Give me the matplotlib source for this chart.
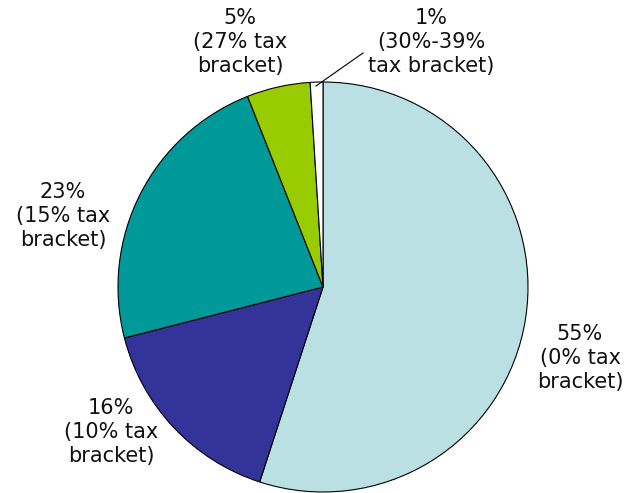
import matplotlib
matplotlib.use("Agg")
import matplotlib.pyplot as plt

# tax bracket shares (%), clockwise from the top
values = [55, 16, 23, 5, 1]
labels = ["55%\n(0% tax\nbracket)",
          "16%\n(10% tax\nbracket)",
          "23%\n(15% tax\nbracket)",
          "5%\n(27% tax\nbracket)",
          "1%\n(30%-39%\ntax bracket)"]
colors = ["#BAE0E3", "#333399", "#009999", "#99CC00", "#FFFFFF"]

W, H = 625, 493
fig = plt.figure(figsize=(W / 100, H / 100), dpi=100)
ax = fig.add_axes([0, 0, 1, 1])

cx, cy, r = 323, H - 287, 205
ax.pie(values, colors=colors, startangle=90, counterclock=False,
       center=(cx, cy), radius=r, frame=True,
       wedgeprops=dict(edgecolor="black", linewidth=0.8))
ax.set_xlim(0, W)
ax.set_ylim(0, H)
ax.set_aspect("equal")
ax.axis("off")

# label positions in pixels (x, y from top)
label_pos = [(580, 358), (111, 432), (63, 216), (240, 42), (431, 42)]
for txt, (x, y) in zip(labels, label_pos):
    ax.text(x, H - y, txt, ha="center", va="center", multialignment="center",
            fontsize=15, family="DejaVu Sans", linespacing=1.25, color="#111111")

# leader line for the 1% slice
ax.plot([316, 363], [H - 86, H - 53], color="black", lw=0.8)

fig.savefig("out.png", dpi=100)
